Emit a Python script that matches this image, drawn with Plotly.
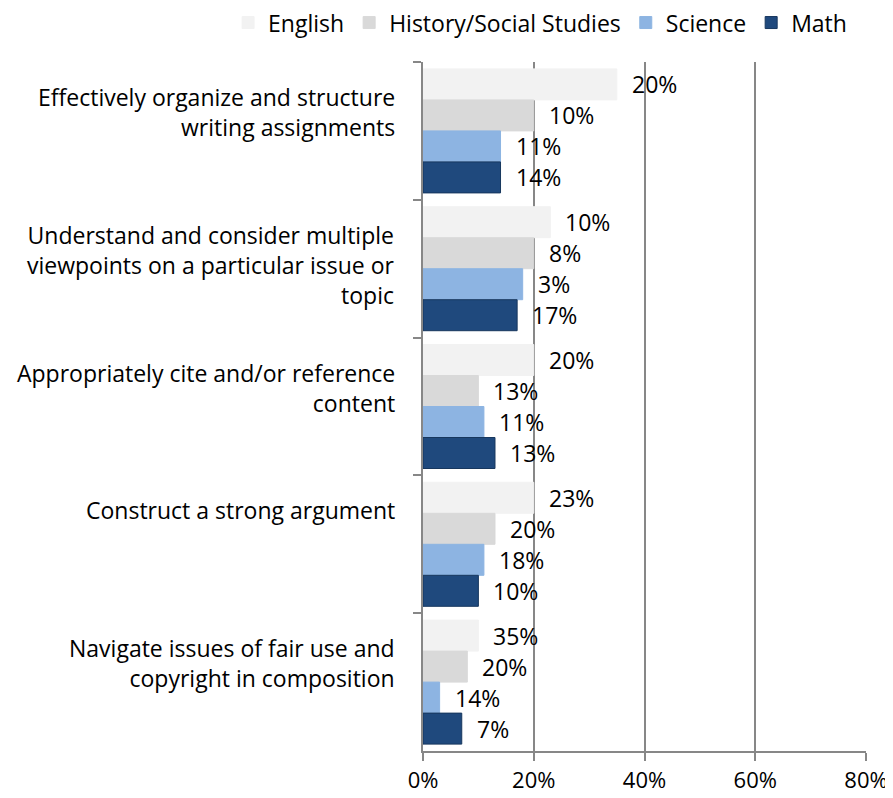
import plotly.graph_objects as go

# categories, top to bottom
skills = [
    "Effectively organize and structure<br>writing assignments",
    "Understand and consider multiple<br>viewpoints on a particular issue or<br>topic",
    "Appropriately cite and/or reference<br>content",
    "Construct a strong argument",
    "Navigate issues of fair use and<br>copyright in composition",
]

series = ["English", "History/Social Studies", "Science", "Math"]

# bar lengths (%) as drawn
english = [35, 23, 20, 20, 10]
history = [20, 20, 10, 13, 8]
science = [14, 18, 11, 11, 3]
math = [14, 17, 13, 10, 7]

# data labels as printed next to the bars
english_lbl = ["20%", "10%", "20%", "23%", "35%"]
history_lbl = ["10%", "8%", "13%", "20%", "20%"]
science_lbl = ["11%", "3%", "11%", "18%", "14%"]
math_lbl = ["14%", "17%", "13%", "10%", "7%"]

COLORS = ["#F2F2F2", "#D9D9D9", "#8DB4E2", "#1F497D"]
LINES = ["#F2F2F2", "#D9D9D9", "#8DB4E2", "#17375E"]
FONT = "'Open Sans', sans-serif"
GRID = "#878787"

values = [english, history, science, math]
labels = [english_lbl, history_lbl, science_lbl, math_lbl]

fig = go.Figure()
for name, vals, col, lc in zip(series, values, COLORS, LINES):
    fig.add_trace(go.Bar(
        name=name, y=skills, x=vals, orientation="h",
        marker=dict(color=col, line=dict(color=lc, width=1)),
    ))

# label offsets inside each category (group of 4 bars, bargap 0.1)
n = len(series)
band = 0.9 / n
for i, (vals, lbls) in enumerate(zip(values, labels)):
    off = -0.45 + band * (i + 0.5)
    for j, (v, t) in enumerate(zip(vals, lbls)):
        fig.add_annotation(
            x=v, y=j + off, xref="x", yref="y", text=t, showarrow=False,
            xanchor="left", xshift=13, font=dict(size=23, color="#000000"),
        )

# category labels sit at the top of each band, like the Excel original
for j, s in enumerate(skills):
    fig.add_annotation(
        x=0, y=j - 0.5, xref="paper", yref="y", text=s, showarrow=False,
        xanchor="right", yanchor="top", align="right",
        xshift=-26, yshift=-17, font=dict(size=23, color="#000000"),
    )

# page body adds an 8px offset, so the figure is 8px smaller than the window
fig.update_layout(
    width=885, height=790,
    barmode="group", bargap=0.1, bargroupgap=0,
    font=dict(family=FONT, size=22, color="#000000"),
    paper_bgcolor="white", plot_bgcolor="white",
    margin=dict(l=415, r=27, t=54, b=47, autoexpand=False),
    showlegend=True,
    legend=dict(orientation="h", xref="paper", yref="paper",
                x=-0.44, xanchor="left", y=1.026, yanchor="bottom",
                font=dict(size=23), itemwidth=30,
                traceorder="normal", bgcolor="rgba(0,0,0,0)"),
    xaxis=dict(range=[0, 80], tickvals=[0, 20, 40, 60, 80],
               ticktext=["0%", "20%", "40%", "60%", "80%"],
               tickfont=dict(size=22),
               showgrid=True, gridcolor=GRID, gridwidth=1.5,
               showline=True, linecolor=GRID, linewidth=1.5,
               ticks="outside", ticklen=8, tickcolor=GRID, tickwidth=1.5,
               ticklabelstandoff=1,
               zeroline=False, automargin=False),
    yaxis=dict(range=[len(skills) - 0.5, -0.5], autorange=False,
               tickson="boundaries", showticklabels=False,
               ticks="outside", ticklen=8, tickcolor=GRID, tickwidth=1.5,
               showline=True, linecolor=GRID, linewidth=1.5,
               showgrid=False, automargin=False),
)

fig.write_html("out.html")
